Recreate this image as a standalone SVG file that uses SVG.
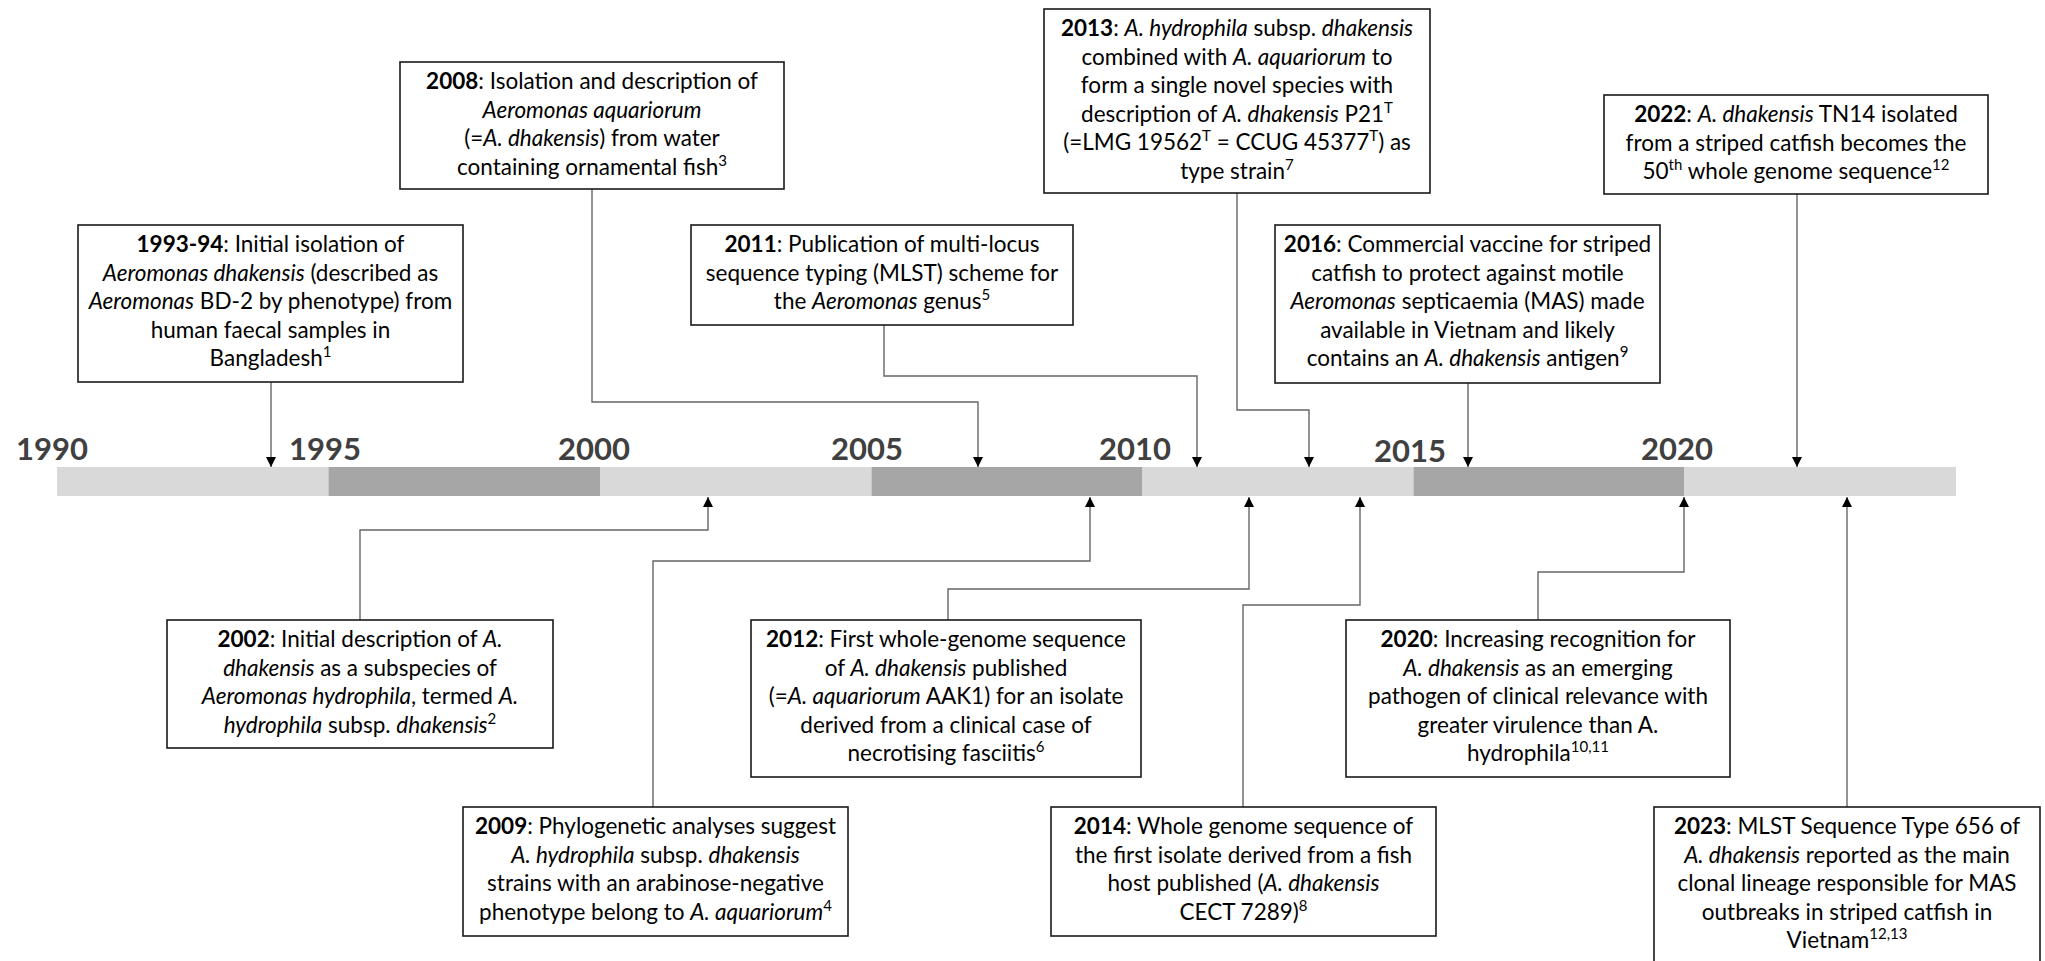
<svg xmlns="http://www.w3.org/2000/svg" width="2045" height="961" viewBox="0 0 2045 961">
<style>
.bg{fill:#ffffff}
.box{fill:#ffffff;stroke:#1a1a1a;stroke-width:1.6}
.t{font-family:Lato,"Open Sans","Liberation Sans",sans-serif;font-size:22.5px;fill:#000;text-anchor:middle}
.b{font-weight:bold}
.i{font-style:italic}
.sup{font-size:15px;baseline-shift:super}
.yr{font-family:Lato,"Open Sans","Liberation Sans",sans-serif;font-weight:bold;font-size:31px;fill:#404040;text-anchor:middle}
.light{fill:#d9d9d9}
.dark{fill:#a6a6a6}
.conn{fill:none;stroke:#666666;stroke-width:1.4}
</style>
<defs>
<marker id="arr" markerUnits="userSpaceOnUse" markerWidth="11" markerHeight="11" refX="10" refY="5" orient="auto">
<path d="M0,0 L10,5 L0,10 Z" fill="#000"/>
</marker>
</defs>
<rect class="bg" x="0" y="0" width="2045" height="961"/>

<g id="timeline">
<rect class="light" x="57" y="467" width="271.5" height="29"/>
<rect class="dark" x="328.5" y="467" width="271.5" height="29"/>
<rect class="light" x="600" y="467" width="271.5" height="29"/>
<rect class="dark" x="871.5" y="467" width="271" height="29"/>
<rect class="light" x="1142.5" y="467" width="271" height="29"/>
<rect class="dark" x="1413.5" y="467" width="270.5" height="29"/>
<rect class="light" x="1684" y="467" width="272" height="29"/>
<text class="yr" x="52" y="460">1990</text>
<text class="yr" x="325" y="460">1995</text>
<text class="yr" x="594" y="460">2000</text>
<text class="yr" x="867" y="460">2005</text>
<text class="yr" x="1135" y="460">2010</text>
<text class="yr" x="1410" y="462">2015</text>
<text class="yr" x="1677" y="460">2020</text>
</g>

<g id="connectors">
<path class="conn" d="M271,382 V467" marker-end="url(#arr)"/>
<path class="conn" d="M592,189 V402 H978 V467" marker-end="url(#arr)"/>
<path class="conn" d="M884,325 V376 H1197 V467" marker-end="url(#arr)"/>
<path class="conn" d="M1237,193 V410 H1309 V467" marker-end="url(#arr)"/>
<path class="conn" d="M1468,383 V467" marker-end="url(#arr)"/>
<path class="conn" d="M1797,194 V467" marker-end="url(#arr)"/>
<path class="conn" d="M360,620 V530 H708 V497" marker-end="url(#arr)"/>
<path class="conn" d="M653,807 V561 H1090 V497" marker-end="url(#arr)"/>
<path class="conn" d="M948,620 V589 H1249 V497" marker-end="url(#arr)"/>
<path class="conn" d="M1243,807 V605 H1360 V497" marker-end="url(#arr)"/>
<path class="conn" d="M1538,620 V572 H1684 V497" marker-end="url(#arr)"/>
<path class="conn" d="M1847,807 V497" marker-end="url(#arr)"/>
</g>

<g id="n1993">
<rect class="box" x="78" y="225" width="385" height="157"/>
<text class="t" x="270.5" y="252"><tspan class="b">1993-94</tspan>: Initial isolation of</text>
<text class="t" x="270.5" y="280.5"><tspan class="i">Aeromonas dhakensis</tspan> (described as</text>
<text class="t" x="270.5" y="309"><tspan class="i">Aeromonas</tspan> BD-2 by phenotype) from</text>
<text class="t" x="270.5" y="337.5">human faecal samples in</text>
<text class="t" x="270.5" y="366">Bangladesh<tspan class="sup">1</tspan></text>
</g>

<g id="n2008">
<rect class="box" x="400" y="62" width="384" height="127"/>
<text class="t" x="592" y="89"><tspan class="b">2008</tspan>: Isolation and description of</text>
<text class="t" x="592" y="117.5"><tspan class="i">Aeromonas aquariorum</tspan></text>
<text class="t" x="592" y="146">(=<tspan class="i">A. dhakensis</tspan>) from water</text>
<text class="t" x="592" y="174.5">containing ornamental fish<tspan class="sup">3</tspan></text>
</g>

<g id="n2011">
<rect class="box" x="691" y="225" width="382" height="100"/>
<text class="t" x="882" y="252"><tspan class="b">2011</tspan>: Publication of multi-locus</text>
<text class="t" x="882" y="280.5">sequence typing (MLST) scheme for</text>
<text class="t" x="882" y="309">the <tspan class="i">Aeromonas</tspan> genus<tspan class="sup">5</tspan></text>
</g>

<g id="n2013">
<rect class="box" x="1044" y="9" width="386" height="184"/>
<text class="t" x="1237" y="36"><tspan class="b">2013</tspan>: <tspan class="i">A. hydrophila</tspan> subsp. <tspan class="i">dhakensis</tspan></text>
<text class="t" x="1237" y="64.5">combined with <tspan class="i">A. aquariorum</tspan> to</text>
<text class="t" x="1237" y="93">form a single novel species with</text>
<text class="t" x="1237" y="121.5">description of <tspan class="i">A. dhakensis</tspan> P21<tspan class="sup">T</tspan></text>
<text class="t" x="1237" y="150">(=LMG 19562<tspan class="sup">T</tspan> = CCUG 45377<tspan class="sup">T</tspan>) as</text>
<text class="t" x="1237" y="178.5">type strain<tspan class="sup">7</tspan></text>
</g>

<g id="n2016">
<rect class="box" x="1275" y="225" width="385" height="158"/>
<text class="t" x="1467.5" y="252"><tspan class="b">2016</tspan>: Commercial vaccine for striped</text>
<text class="t" x="1467.5" y="280.5">catfish to protect against motile</text>
<text class="t" x="1467.5" y="309"><tspan class="i">Aeromonas</tspan> septicaemia (MAS) made</text>
<text class="t" x="1467.5" y="337.5">available in Vietnam and likely</text>
<text class="t" x="1467.5" y="366">contains an <tspan class="i">A. dhakensis</tspan> antigen<tspan class="sup">9</tspan></text>
</g>

<g id="n2022">
<rect class="box" x="1604" y="95" width="384" height="99"/>
<text class="t" x="1796" y="122"><tspan class="b">2022</tspan>: <tspan class="i">A. dhakensis</tspan> TN14 isolated</text>
<text class="t" x="1796" y="150.5">from a striped catfish becomes the</text>
<text class="t" x="1796" y="179">50<tspan class="sup">th</tspan> whole genome sequence<tspan class="sup">12</tspan></text>
</g>

<g id="n2002">
<rect class="box" x="167" y="620" width="386" height="128"/>
<text class="t" x="360" y="647"><tspan class="b">2002</tspan>: Initial description of <tspan class="i">A.</tspan></text>
<text class="t" x="360" y="675.5"><tspan class="i">dhakensis</tspan> as a subspecies of</text>
<text class="t" x="360" y="704"><tspan class="i">Aeromonas hydrophila</tspan>, termed <tspan class="i">A.</tspan></text>
<text class="t" x="360" y="732.5"><tspan class="i">hydrophila</tspan> subsp. <tspan class="i">dhakensis</tspan><tspan class="sup">2</tspan></text>
</g>

<g id="n2009">
<rect class="box" x="463" y="807" width="385" height="129"/>
<text class="t" x="655.5" y="834"><tspan class="b">2009</tspan>: Phylogenetic analyses suggest</text>
<text class="t" x="655.5" y="862.5"><tspan class="i">A. hydrophila</tspan> subsp. <tspan class="i">dhakensis</tspan></text>
<text class="t" x="655.5" y="891">strains with an arabinose-negative</text>
<text class="t" x="655.5" y="919.5">phenotype belong to <tspan class="i">A. aquariorum</tspan><tspan class="sup">4</tspan></text>
</g>

<g id="n2012">
<rect class="box" x="751" y="620" width="390" height="157"/>
<text class="t" x="946" y="647"><tspan class="b">2012</tspan>: First whole-genome sequence</text>
<text class="t" x="946" y="675.5">of <tspan class="i">A. dhakensis</tspan> published</text>
<text class="t" x="946" y="704">(=<tspan class="i">A. aquariorum</tspan> AAK1) for an isolate</text>
<text class="t" x="946" y="732.5">derived from a clinical case of</text>
<text class="t" x="946" y="761">necrotising fasciitis<tspan class="sup">6</tspan></text>
</g>

<g id="n2014">
<rect class="box" x="1051" y="807" width="385" height="129"/>
<text class="t" x="1243.5" y="834"><tspan class="b">2014</tspan>: Whole genome sequence of</text>
<text class="t" x="1243.5" y="862.5">the first isolate derived from a fish</text>
<text class="t" x="1243.5" y="891">host published (<tspan class="i">A. dhakensis</tspan></text>
<text class="t" x="1243.5" y="919.5">CECT 7289)<tspan class="sup">8</tspan></text>
</g>

<g id="n2020">
<rect class="box" x="1346" y="620" width="384" height="157"/>
<text class="t" x="1538" y="647"><tspan class="b">2020</tspan>: Increasing recognition for</text>
<text class="t" x="1538" y="675.5"><tspan class="i">A. dhakensis</tspan> as an emerging</text>
<text class="t" x="1538" y="704">pathogen of clinical relevance with</text>
<text class="t" x="1538" y="732.5">greater virulence than A.</text>
<text class="t" x="1538" y="761">hydrophila<tspan class="sup">10,11</tspan></text>
</g>

<g id="n2023">
<rect class="box" x="1654" y="807" width="386" height="162"/>
<text class="t" x="1847" y="834"><tspan class="b">2023</tspan>: MLST Sequence Type 656 of</text>
<text class="t" x="1847" y="862.5"><tspan class="i">A. dhakensis</tspan> reported as the main</text>
<text class="t" x="1847" y="891">clonal lineage responsible for MAS</text>
<text class="t" x="1847" y="919.5">outbreaks in striped catfish in</text>
<text class="t" x="1847" y="948">Vietnam<tspan class="sup">12,13</tspan></text>
</g>
</svg>
